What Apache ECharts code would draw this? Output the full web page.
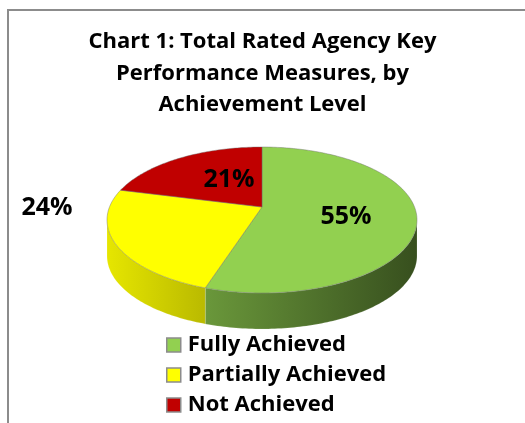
<!DOCTYPE html>
<html><head><meta charset="utf-8">
<script src="https://cdn.jsdelivr.net/npm/echarts@6/dist/echarts.min.js"></script>
<style>html,body{margin:0;padding:0;background:#fff}#c{width:525px;height:423px}</style>
</head><body><div id="c"></div>
<script>
// ---- data ----
const categories = ['Fully Achieved', 'Partially Achieved', 'Not Achieved'];
const values = [55, 24, 21];
const labels = ['55%', '24%', '21%'];
const colors = ['#92d050', '#ffff00', '#c00000'];
const titleText = 'Chart 1: Total Rated Agency Key\nPerformance Measures, by\nAchievement Level';

// ---- layout ----
const PIE = { cx: 262, cy: 220, rx: 155, ry: 73, depth: 36, persp: -0.178 };
const labelXY = [[346, 217], [47, 208], [229, 180]];
const FONT = '"Open Sans", "Liberation Sans", sans-serif';

function proj(theta, r, dy) {
  const u = r * Math.sin(theta), v = -r * Math.cos(theta);
  const a = PIE.persp, d = 1 + a * v;
  const up = u * Math.sqrt(1 - a * a) / d, vp = (v + a) / d;
  return [PIE.cx + PIE.rx * up, PIE.cy + PIE.ry * vp + (dy || 0)];
}
function arc(t0, t1, dy) {
  const pts = [];
  const n = Math.max(2, Math.ceil((t1 - t0) / (Math.PI / 180)));
  for (let k = 0; k <= n; k++) pts.push(proj(t0 + (t1 - t0) * k / n, 1, dy));
  return pts;
}
function shade(hex, f) {
  const n = parseInt(hex.slice(1), 16);
  const r = Math.round(((n >> 16) & 255) * f), g = Math.round(((n >> 8) & 255) * f), b = Math.round((n & 255) * f);
  return 'rgb(' + r + ',' + g + ',' + b + ')';
}
const total = values.reduce((s, v) => s + v, 0);

function makeRender(i) {
  return function (params, api) {
    const val = api.value(0);
    let before = 0;
    for (let k = 0; k < i; k++) before += values[k];
    const t0 = before / total * 2 * Math.PI;
    const t1 = (before + val) / total * 2 * Math.PI;
    const children = [];
    const a = PIE.persp;
    const fL = Math.acos(a), fR = 2 * Math.PI - Math.acos(a);
    const s0 = Math.max(t0, fL), s1 = Math.min(t1, fR);
    if (s1 > s0) {
      const topArc = arc(s0, s1, 0);
      const botArc = arc(s0, s1, PIE.depth).reverse();
      const x0 = PIE.cx - PIE.rx, x1 = PIE.cx + PIE.rx;
      children.push({
        type: 'polygon',
        shape: { points: topArc.concat(botArc) },
        style: {
          fill: new echarts.graphic.LinearGradient(x0, 0, x1, 0, [
            { offset: 0, color: shade(colors[i], 0.9) },
            { offset: 0.33, color: shade(colors[i], 0.72) },
            { offset: 1, color: shade(colors[i], 0.38) }
          ], true),
          stroke: 'rgba(255,255,255,0.25)', lineWidth: 0.6
        }
      });
    }
    const pts = [proj(0, 0)].concat(arc(t0, t1, 0));
    children.push({
      type: 'polygon',
      shape: { points: pts },
      style: { fill: colors[i], stroke: 'rgba(110,110,110,0.55)', lineWidth: 0.8 }
    });
    children.push({
      type: 'text',
      style: {
        x: labelXY[i][0], y: labelXY[i][1], text: labels[i],
        fill: '#000', font: 'bold 25px ' + FONT,
        align: 'center', verticalAlign: 'middle'
      },
      z2: 10
    });
    return { type: 'group', children: children };
  };
}

const chart = echarts.init(document.getElementById('c'), null, { renderer: 'canvas' });
chart.setOption({
  animation: false,
  title: {
    text: titleText, left: 'center', top: 21,
    textStyle: { fontFamily: FONT, fontWeight: 'bold', fontSize: 22, lineHeight: 31.5, color: '#000' }
  },
  legend: {
    orient: 'vertical', left: 166, top: 333, bottom: 0, padding: 0,
    itemWidth: 14, itemHeight: 14, itemGap: 6, icon: 'rect',
    itemStyle: { borderColor: '#8c8c8c', borderWidth: 1.5 },
    textStyle: { fontFamily: FONT, fontWeight: 'bold', fontSize: 22, lineHeight: 24, color: '#000', padding: [0, 0, 0, 2] },
    data: categories
  },
  graphic: [{
    type: 'polyline', shape: { points: [[8, 423], [8, 10], [525, 10]] },
    style: { stroke: '#8c8c8c', lineWidth: 2, fill: null }, silent: true
  }],
  series: categories.map((name, i) => ({
    type: 'custom', name: name, coordinateSystem: 'none',
    itemStyle: { color: colors[i] },
    renderItem: makeRender(i),
    data: [[values[i]]]
  }))
});
</script></body></html>
